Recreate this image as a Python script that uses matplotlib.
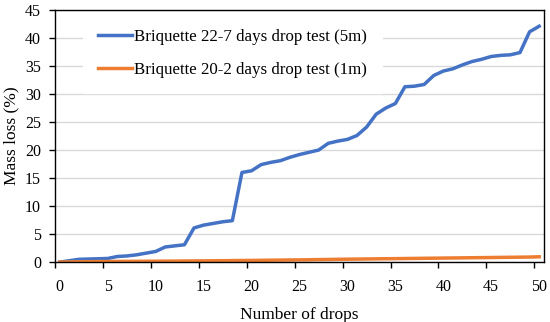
import numpy as np
import matplotlib.pyplot as plt

plt.rcParams["font.family"] = ["Liberation Serif"]

# Number of drops (categories 0..50)
drops = list(range(51))

# Mass loss (%) per drop
loss_5m = [0.0, 0.25, 0.5, 0.55, 0.6, 0.65, 1.0, 1.1, 1.3, 1.6, 1.9,
           2.7, 2.9, 3.1, 6.1, 6.6, 6.9, 7.2, 7.4, 16.0, 16.3,
           17.4, 17.8, 18.1, 18.7, 19.2, 19.6, 20.0, 21.2, 21.6, 21.9,
           22.6, 24.1, 26.4, 27.5, 28.3, 31.3, 31.4, 31.7, 33.3, 34.1,
           34.5, 35.2, 35.8, 36.2, 36.7, 36.9, 37.0, 37.4, 41.1, 42.1]
loss_1m = [0.0, 0.03, 0.05, 0.07, 0.09, 0.1, 0.12, 0.13, 0.14, 0.15, 0.16,
           0.17, 0.18, 0.2, 0.21, 0.22, 0.24, 0.25, 0.27, 0.29, 0.3,
           0.32, 0.34, 0.36, 0.38, 0.4, 0.42, 0.45, 0.47, 0.5, 0.52,
           0.54, 0.56, 0.58, 0.6, 0.62, 0.64, 0.66, 0.68, 0.7, 0.72,
           0.74, 0.76, 0.78, 0.8, 0.82, 0.84, 0.86, 0.88, 0.9, 0.95]

labels = ["Briquette 22-7 days drop test (5m)",
          "Briquette 20-2 days drop test (1m)"]

fig, ax = plt.subplots(figsize=(5.5, 3.22), dpi=100)
fig.subplots_adjust(left=0.1, right=0.989, top=0.969, bottom=0.186)

ax.plot(drops, loss_5m, color="#4472C4", lw=2.5, label=labels[0])
ax.plot(drops, loss_1m, color="#ED7D31", lw=2.5, label=labels[1])

ax.set_xlim(-0.5, 50.5)
ax.set_ylim(0, 45)
ax.set_yticks(np.arange(0, 46, 5))
ax.yaxis.grid(True, color="#d9d9d9", lw=1)
ax.set_axisbelow(True)

# labels at category centres, tick marks on category boundaries
ax.set_xticks(np.arange(0, 51, 5))
ax.set_xticks(np.arange(-0.5, 51, 5), minor=True)
ax.tick_params(axis="x", which="major", length=0, pad=12)
ax.tick_params(axis="x", which="minor", length=4, width=1, direction="out")
ax.tick_params(axis="y", length=4, width=1, pad=6)
ax.tick_params(labelsize=11.5)

for s in ax.spines.values():
    s.set_linewidth(1)

ax.set_xlabel("Number of drops", fontsize=12.5, labelpad=9)
ax.set_ylabel("Mass loss (%)", fontsize=12.5, labelpad=4)

leg = ax.legend(loc="upper left", bbox_to_anchor=(0.057, 0.984), frameon=True,
                fontsize=12.2, handlelength=2.0, handletextpad=0.1,
                labelspacing=1.0, borderpad=0.9, borderaxespad=0,
                fancybox=False)
leg.get_frame().set_edgecolor("white")
leg.get_frame().set_facecolor("white")
leg.get_frame().set_alpha(1)

fig.savefig("out.png", dpi=100)
